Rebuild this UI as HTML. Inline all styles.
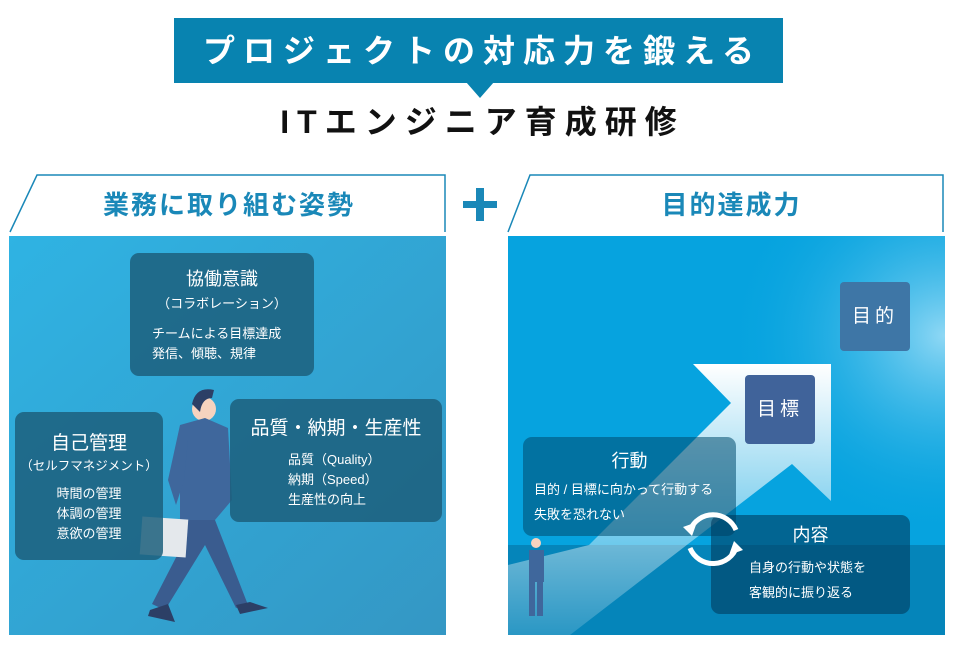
<!DOCTYPE html>
<html><head><meta charset="utf-8"><style>
body{margin:0;width:960px;height:647px;background:#fff;position:relative;overflow:hidden;font-family:"Liberation Sans","Noto Sans CJK JP",sans-serif}
.a{position:absolute}
.box{position:absolute;border-radius:9px;color:#fff;text-align:center}
</style></head><body>
<div class="a" style="left:174px;top:18px;width:609px;height:65px;background:#0883b0"></div>
<div class="a" style="left:466px;top:82px;width:0;height:0;border-left:14px solid transparent;border-right:14px solid transparent;border-top:16px solid #0883b0"></div>
<div class="a" style="left:174px;top:30px;width:609px;text-align:center;color:#fff;font-size:32px;font-weight:bold;letter-spacing:8px;text-indent:8px;line-height:42px">プロジェクトの対応力を鍛える</div>
<div class="a" style="left:174px;top:101px;width:609px;text-align:center;color:#111;font-size:32px;font-weight:bold;letter-spacing:8px;text-indent:8px;line-height:42px">ITエンジニア育成研修</div>

<svg class="a" style="left:0;top:0" width="960" height="647">
<defs>
<linearGradient id="lg" x1="0" y1="0" x2="1" y2="1"><stop offset="0" stop-color="#2fb3e3"/><stop offset="1" stop-color="#3497c4"/></linearGradient>
<radialGradient id="rg" cx="1" cy="0.25" r="0.5"><stop offset="0" stop-color="#8fd8f5"/><stop offset="1" stop-color="#06a3df" stop-opacity="0"/></radialGradient>
<linearGradient id="ag" x1="0" y1="0" x2="0" y2="1"><stop offset="0" stop-color="#fff"/><stop offset="0.5" stop-color="#fff" stop-opacity="0.55"/><stop offset="1" stop-color="#fff" stop-opacity="0.15"/></linearGradient>
</defs>
<path d="M10 232 L37 175 L445 175 L445 232" fill="none" stroke="#1a88b8" stroke-width="1.5"/>
<path d="M508 232 L530 175 L943 175 L943 232" fill="none" stroke="#1a88b8" stroke-width="1.5"/>
<rect x="463" y="201" width="34" height="7" fill="#1a88b8"/><rect x="476" y="188" width="8" height="33" fill="#1a88b8"/>
<rect x="9" y="236" width="437" height="399" fill="url(#lg)"/>
<rect x="508" y="236" width="437" height="399" fill="#06a3df"/>
<rect x="508" y="236" width="437" height="399" fill="url(#rg)"/>
<rect x="508" y="545" width="437" height="90" fill="#0585ba"/>
<path d="M693 364 L831 364 L831 501 L792 464 L570 635 L508 635 L508 565 L589 545 L731 403Z" fill="url(#ag)"/>
<g fill="#3f679c">
<circle cx="204" cy="409" r="12" fill="#f6d3bf"/>
<path d="M192 404 Q196 386 214 390 L212 398 Q202 398 200 412Z" fill="#2c3f66"/>
<path d="M180 425 L205 418 L228 428 L232 500 L215 520 L180 520Z"/>
<path d="M180 520 L215 520 L248 605 L236 608 L205 545 L165 610 L152 604 L185 540Z" fill="#3a5c8f"/>
<path d="M180 425 L168 480 L176 505 L184 480 L188 440Z"/>
<path d="M150 610 L168 604 L175 622 L148 616Z" fill="#2c3f66"/>
<path d="M236 605 L250 602 L268 608 L240 614Z" fill="#2c3f66"/>
</g>
<rect x="141" y="518" width="46" height="38" fill="#e4e8ec" transform="rotate(4 164 537)"/>
<g fill="#3f679c"><circle cx="536" cy="543" r="5" fill="#f6d3bf"/><rect x="529" y="550" width="15" height="32"/><rect x="529" y="580" width="6" height="36"/><rect x="537" y="580" width="6" height="36"/></g>
</svg>

<div class="box" style="left:130px;top:253px;width:184px;height:123px;background:rgba(28,95,125,0.85)">
<div style="font-size:18px;margin-top:12px">協働意識</div><div style="font-size:13px;margin-top:2px">（コラボレーション）</div>
<div style="font-size:13px;text-align:left;padding-left:22px;margin-top:12px;line-height:20px">チームによる目標達成<br>発信、傾聴、規律</div></div>
<div class="box" style="left:15px;top:412px;width:148px;height:148px;background:rgba(28,95,125,0.85)">
<div style="font-size:19px;margin-top:16px">自己管理</div><div style="font-size:12.5px;margin-top:0">（セルフマネジメント）</div>
<div style="font-size:13px;margin-top:10px;line-height:20px">時間の管理<br>体調の管理<br>意欲の管理</div></div>
<div class="box" style="left:230px;top:399px;width:212px;height:123px;background:rgba(28,95,125,0.85)">
<div style="font-size:19px;margin-top:14px">品質・納期・生産性</div>
<div style="font-size:13px;text-align:left;padding-left:58px;margin-top:10px;line-height:20px">品質（Quality）<br>納期（Speed）<br>生産性の向上</div></div>

<div class="box" style="left:840px;top:282px;width:70px;height:69px;border-radius:4px;background:#3e76a6;font-size:19px;line-height:69px;letter-spacing:4px">目的</div>
<div class="box" style="left:745px;top:375px;width:70px;height:69px;border-radius:4px;background:#40639a;font-size:19px;line-height:69px;letter-spacing:4px">目標</div>
<div class="box" style="left:523px;top:437px;width:213px;height:99px;background:rgba(0,75,110,0.55)">
<div style="font-size:18px;margin-top:10px">行動</div>
<div style="font-size:13px;text-align:left;padding-left:11px;margin-top:4px;line-height:25px">目的 / 目標に向かって行動する<br>失敗を恐れない</div></div>
<div class="box" style="left:711px;top:515px;width:199px;height:99px;background:rgba(0,60,95,0.6)">
<div style="font-size:18px;margin-top:6px">内容</div>
<div style="font-size:13px;text-align:left;padding-left:38px;margin-top:8px;line-height:25px">自身の行動や状態を<br>客観的に振り返る</div></div>

<svg class="a" style="left:680px;top:505px" width="66" height="66">
<g fill="none" stroke="#fff" stroke-width="5"><path d="M10 25 A25 25 0 0 1 56 25"/><path d="M57 41 A25 25 0 0 1 10 43"/></g>
<path d="M3 22 L17 17 L12 31Z M63 45 L49 50 L54 36Z" fill="#fff"/>
</svg>

<div class="a" style="left:25px;top:185px;width:408px;text-align:center;color:#1a88b8;font-size:26px;letter-spacing:2px;font-weight:bold">業務に取り組む姿勢</div>
<div class="a" style="left:525px;top:185px;width:413px;text-align:center;color:#1a88b8;font-size:26px;letter-spacing:2px;font-weight:bold">目的達成力</div>
</body></html>
